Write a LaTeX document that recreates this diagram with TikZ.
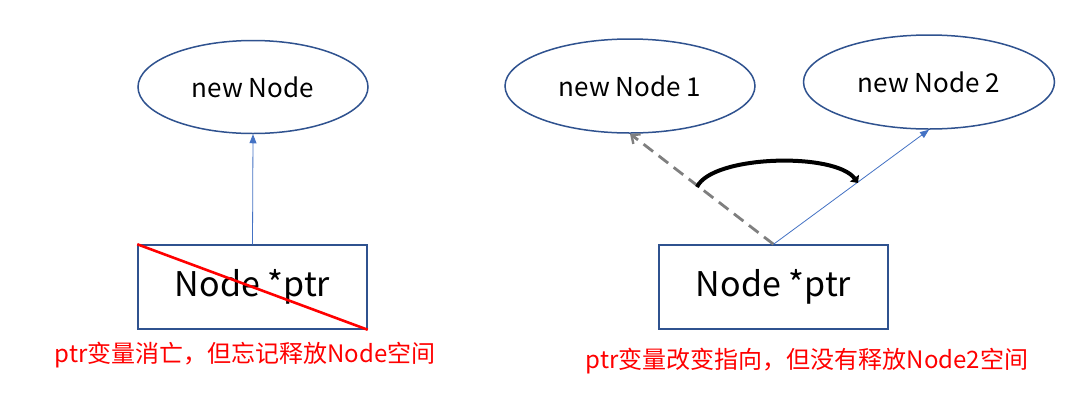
\documentclass[tikz,border=0pt]{standalone}
\usepackage{fontspec}
\setmainfont{Noto Sans CJK SC}
\usetikzlibrary{shapes.geometric,arrows.meta}
\definecolor{edgeblue}{RGB}{47,82,143}
\definecolor{arrowblue}{RGB}{68,114,196}
\definecolor{dashgray}{RGB}{127,127,127}
\definecolor{txtred}{RGB}{255,0,0}
\begin{document}
\begin{tikzpicture}[x=1pt,y=-1pt,
  ell/.style={ellipse,draw=edgeblue,line width=1.5pt,inner sep=0pt,font=\fontsize{26}{29}\selectfont},
  ptrbox/.style={rectangle,draw=edgeblue,line width=1.5pt,inner sep=0pt,minimum width=229pt,minimum height=84pt,font=\fontsize{34}{37}\selectfont},
  note/.style={text=txtred,font=\fontsize{24}{27}\selectfont,inner sep=0pt},
  bluearrow/.style={draw=arrowblue,line width=0.8pt,-{Triangle[length=9pt,width=7pt]}},
  grayarrow/.style={draw=dashgray,line width=2.8pt,dash pattern=on 12pt off 7pt,-{Straight Barb[length=7pt,width=12pt,line width=2.4pt]}},
  swing/.style={draw=black,line width=4pt,-{Triangle[length=6pt,width=11pt]}}
]
\useasboundingbox (0,0) rectangle (1090,408);
\fill[white] (0,0) rectangle (1090,408);
% left
\node[ell,minimum width=230pt,minimum height=93pt] (e0) at (253,87) {new Node};
\node[ptrbox] (b0) at (252.5,287) {Node *ptr};
\draw[bluearrow] (b0.north) -- (e0.south);
\draw[txtred,line width=2.6pt] (b0.north west) -- (b0.south east);
\node[note] (t0) at (245,355) {ptr变量消亡，但忘记释放Node空间};
% right
\node[ell,minimum width=250pt,minimum height=94pt] (e1) at (630,86) {new Node 1};
\node[ell,minimum width=251pt,minimum height=94pt] (e2) at (929,82) {new Node 2};
\node[ptrbox] (b1) at (773.5,287) {Node *ptr};
\draw[grayarrow] (b1.north) -- (e1.south);
\draw[bluearrow] (b1.north) -- (e2.south);
\coordinate (s1) at (697,187);
\coordinate (s2) at (858,183);
\draw[swing] (s1) .. controls (712,155) and (835,152) .. (s2);
\node[note] (t1) at (807,361) {ptr变量改变指向，但没有释放Node2空间};
\end{tikzpicture}
\end{document}
